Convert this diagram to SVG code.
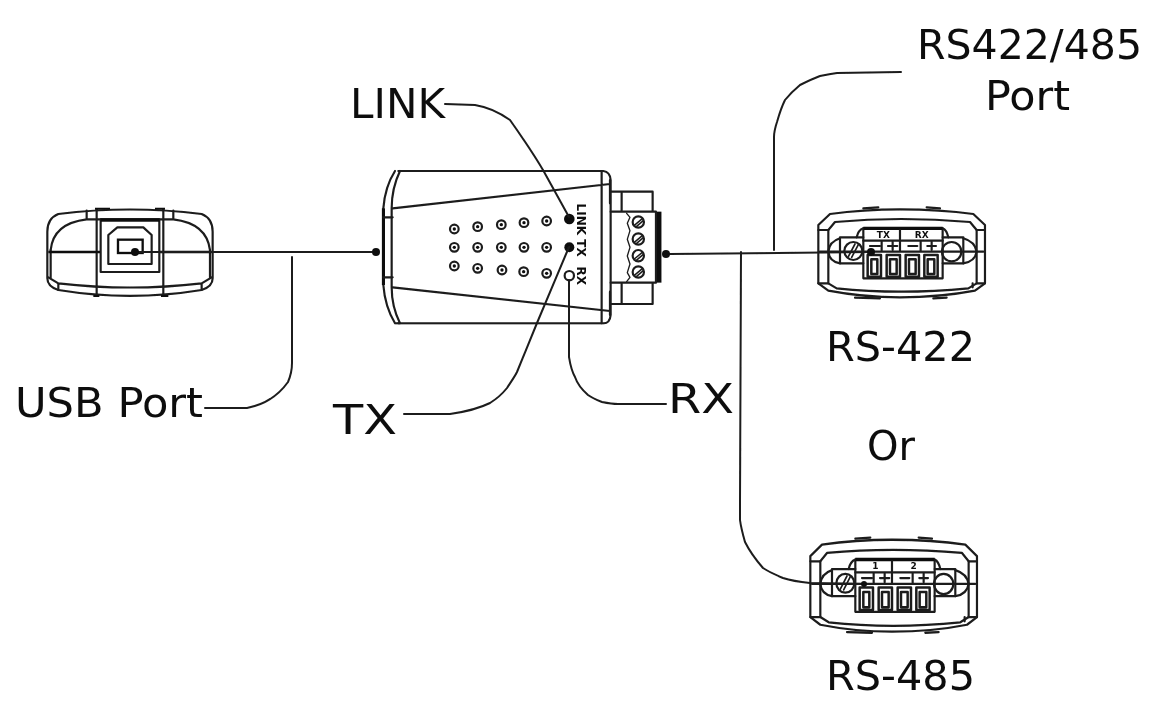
<svg xmlns="http://www.w3.org/2000/svg" width="1151" height="712" viewBox="0 0 1151 712">
<style>
.l{fill:none;stroke:#1c1c1c;stroke-width:6.5;stroke-linejoin:round;stroke-linecap:round}
.t{fill:none;stroke:#111;stroke-width:10}
.k{fill:#111;stroke:none}
.c{fill:none;stroke:#1c1c1c;stroke-width:2;stroke-linecap:round;stroke-linejoin:round}
.d{fill:#111}
text{font-family:"DejaVu Sans",Verdana,sans-serif;fill:#111}
.big{font-size:41px}
.sm{font-size:27px;font-weight:bold;text-anchor:middle}
.tiny{font-size:36px;font-weight:bold;text-anchor:middle}
</style>
<defs>
<filter id="soft" x="0" y="0" width="100%" height="100%"><feGaussianBlur stdDeviation="0.4"/></filter>
<g id="led"><circle r="13" class="l"/><circle r="5" class="k"/></g>
<g id="screw"><circle r="17" class="l"/><path d="M-12,10L12,-10M-6,14L15,-4" class="l" style="stroke-width:4.5"/></g>
<g id="term">
<path d="M90,42Q190,28 300,28Q420,28 520,42L555,75L555,250L525,272Q420,292 300,292Q190,292 85,272L55,250L55,75Z" class="l"/>
<path d="M55,90L85,90L85,250L55,250M555,90L530,90L530,250L555,250" class="l"/>
<path d="M85,90L105,66Q300,48 510,66L530,90M85,250L110,265Q300,285 505,265L530,250" class="l"/>
<path d="M190,25L235,22M380,22L420,25M165,293L240,295M400,295L440,293M518,250L518,262" class="l"/>
<path d="M120,112L190,112M120,190L190,190M120,112L120,190M428,112L490,112M428,190L490,190M490,112L490,190" class="l"/>
<path d="M120,115Q88,125 85,155Q88,185 120,190M490,115Q525,125 530,155Q525,185 490,190M190,85Q175,90 170,112M428,85Q440,90 445,112" class="l"/>
<circle cx="160" cy="153" r="27" class="l"/>
<circle cx="455" cy="155" r="29" class="l"/>
<path d="M145,170L165,132M155,172L175,134" class="l" style="stroke-width:5"/>
<path d="M60,155L185,155M430,155L550,155" class="l"/>
<path d="M190,85L428,85L428,235L190,235Z" class="l"/>
<path d="M190,85L428,85" class="t"/>
<path d="M190,122L300,122M305,122L428,122M190,155L428,155M300,90L300,155M245,122L245,155M362,122L362,155" class="l"/>
<g class="l" style="stroke-width:7.5">
<rect x="203" y="165" width="40" height="65"/><rect x="214" y="178" width="18" height="44"/>
<rect x="260" y="165" width="40" height="65"/><rect x="270" y="178" width="20" height="44"/>
<rect x="317" y="165" width="40" height="65"/><rect x="327" y="178" width="20" height="44"/>
<rect x="373" y="165" width="40" height="65"/><rect x="383" y="178" width="20" height="44"/>
</g>
</g>
</defs>

<g filter="url(#soft)">
<g id="usb-device" transform="translate(30,190) scale(.3333)">
<path d="M85,72Q300,45 515,72Q548,85 548,125L548,265Q548,290 515,300Q300,335 85,300Q52,290 52,265L52,125Q52,85 85,72Z" class="l"/>
<path d="M62,180Q70,100 170,88L430,88Q530,100 540,180M170,62L170,88M430,62L430,88" class="l"/>
<path d="M62,180L62,265M540,180L540,265M85,280L85,300M515,280L515,300M55,262L85,280Q300,305 515,280L545,262" class="l"/>
<path d="M200,58L200,318M400,58L400,318" class="l"/>
<path d="M195,56L240,56M375,56L405,56M190,318L208,318M393,318L415,318" class="t" style="stroke-width:6"/>
<rect x="212" y="88" width="176" height="158" class="l"/>
<path d="M212,90L388,90" class="t"/>
<path d="M235,135L262,112L340,112L365,135L365,222L235,222Z" class="l"/>
<rect x="264" y="149" width="74" height="40" class="t" style="stroke-width:7"/>
<path d="M55,186L210,186M390,186L545,186" class="t" style="stroke-width:7"/>
</g>

<g id="converter" transform="translate(370,160) scale(.3333)">
<path d="M85,33L700,33Q720,35 722,60L722,465Q720,490 700,490L85,490" class="l"/>
<path d="M75,33Q45,80 40,145L40,375Q45,440 75,490L90,490Q65,440 65,382L65,145Q65,85 90,33" class="l"/>
<path d="M40,145L40,375" class="t"/>
<path d="M40,172L68,172M40,352L68,352M68,145L720,72M68,382L720,453M695,33L695,490M720,60L720,130M720,395L720,465" class="l"/>
<path d="M722,95L848,95L848,155M848,368L848,432L722,432M755,95L755,155M755,368L755,432M722,155L858,155L858,368L722,368" class="l"/>
<path d="M868,155L868,368" class="t" style="stroke-width:14"/>
<path d="M770,160L780,172L772,190L780,212L772,238L780,262L772,288L780,312L772,338L780,352L770,365" class="l" style="stroke-width:4"/>
<use href="#screw" x="805" y="186"/>
<use href="#screw" x="805" y="237"/>
<use href="#screw" x="805" y="287"/>
<use href="#screw" x="805" y="336"/>
<use href="#led" x="253" y="207"/><use href="#led" x="323" y="200"/><use href="#led" x="394" y="194"/><use href="#led" x="462" y="188"/><use href="#led" x="530" y="183"/>
<use href="#led" x="253" y="262"/><use href="#led" x="323" y="262"/><use href="#led" x="394" y="262"/><use href="#led" x="462" y="262"/><use href="#led" x="530" y="262"/>
<use href="#led" x="253" y="318"/><use href="#led" x="323" y="325"/><use href="#led" x="396" y="330"/><use href="#led" x="461" y="335"/><use href="#led" x="530" y="340"/>
<circle cx="598" cy="177" r="16" class="k"/>
<circle cx="598" cy="262" r="15" class="k"/>
<circle cx="598" cy="347" r="14" class="l"/>
<text class="tiny" transform="translate(622,178) rotate(90)">LINK</text>
<text class="tiny" transform="translate(622,264) rotate(90)">TX</text>
<text class="tiny" transform="translate(622,347) rotate(90)">RX</text>
</g>

<g id="rs422-device" transform="translate(800,200) scale(.3333)">
<use href="#term"/>
<text class="sm" x="250" y="113">TX</text>
<text class="sm" x="365" y="113">RX</text>
<path d="M210,138L240,138M264,138L292,138M278,125L278,150M325,138L352,138M382,138L408,138M395,125L395,150" class="l"/>
</g>

<g id="rs485-device" transform="translate(792,530) scale(.3333,.3483)">
<use href="#term"/>
<text class="sm" x="250" y="113">1</text>
<text class="sm" x="365" y="113">2</text>
<path d="M210,138L240,138M264,138L292,138M278,125L278,150M325,138L352,138M382,138L408,138M395,125L395,150" class="l"/>
</g>

<g id="connectors">
<path class="c" d="M135,252L372,252"/>
<circle class="d" cx="135" cy="252" r="4"/>
<circle class="d" cx="376" cy="252" r="4"/>
<path class="c" d="M205,408L247,408C263,405 278,396 288,382C291,375 292,369 292,363L292,257"/>
<path class="c" d="M445,104L475,105C488,107 500,113 510,120C522,137 533,153 543,170L569,217"/>
<path class="c" d="M404,414L450,414C464,412 478,409 490,403C498,398 503,393 507,388C510,383 514,378 517,372L537,323L569,247"/>
<path class="c" d="M666,404L618,404C612,404 607,403 602,402C597,400 592,398 588,395C580,388 577,383 575,377C571,370 570,363 569,357L569,280"/>
<path class="c" d="M670,254L871,252"/>
<circle class="d" cx="666" cy="254" r="4"/>
<circle class="d" cx="871" cy="252" r="4"/>
<path class="c" d="M901,72L837,73C830,74 825,75 820,76C812,79 806,82 800,85C794,90 789,95 785,100C781,108 779,115 777,122C775,128 774,132 774,137L774,250"/>
<path class="c" d="M741,252L740,500C740,508 740,514 740,520C741,528 743,535 745,542C750,552 756,560 763,568C769,572 776,575 783,578C792,581 800,582 810,583L864,584"/>
<circle class="d" cx="864" cy="584" r="3"/>
</g>

<g id="labels">
<text class="big" x="917" y="59" textLength="225" lengthAdjust="spacingAndGlyphs">RS422/485</text>
<text class="big" x="985" y="110" textLength="85" lengthAdjust="spacingAndGlyphs">Port</text>
<text class="big" x="350" y="118" textLength="95" lengthAdjust="spacingAndGlyphs">LINK</text>
<text class="big" x="15" y="417" textLength="188" lengthAdjust="spacingAndGlyphs">USB Port</text>
<text class="big" x="333" y="434" textLength="64" lengthAdjust="spacingAndGlyphs">TX</text>
<text class="big" x="668" y="413" textLength="66" lengthAdjust="spacingAndGlyphs">RX</text>
<text class="big" x="826" y="361" textLength="149" lengthAdjust="spacingAndGlyphs">RS-422</text>
<text class="big" x="867" y="460" textLength="48" lengthAdjust="spacingAndGlyphs">Or</text>
<text class="big" x="826" y="690" textLength="149" lengthAdjust="spacingAndGlyphs">RS-485</text>
</g>
</g>
</svg>
